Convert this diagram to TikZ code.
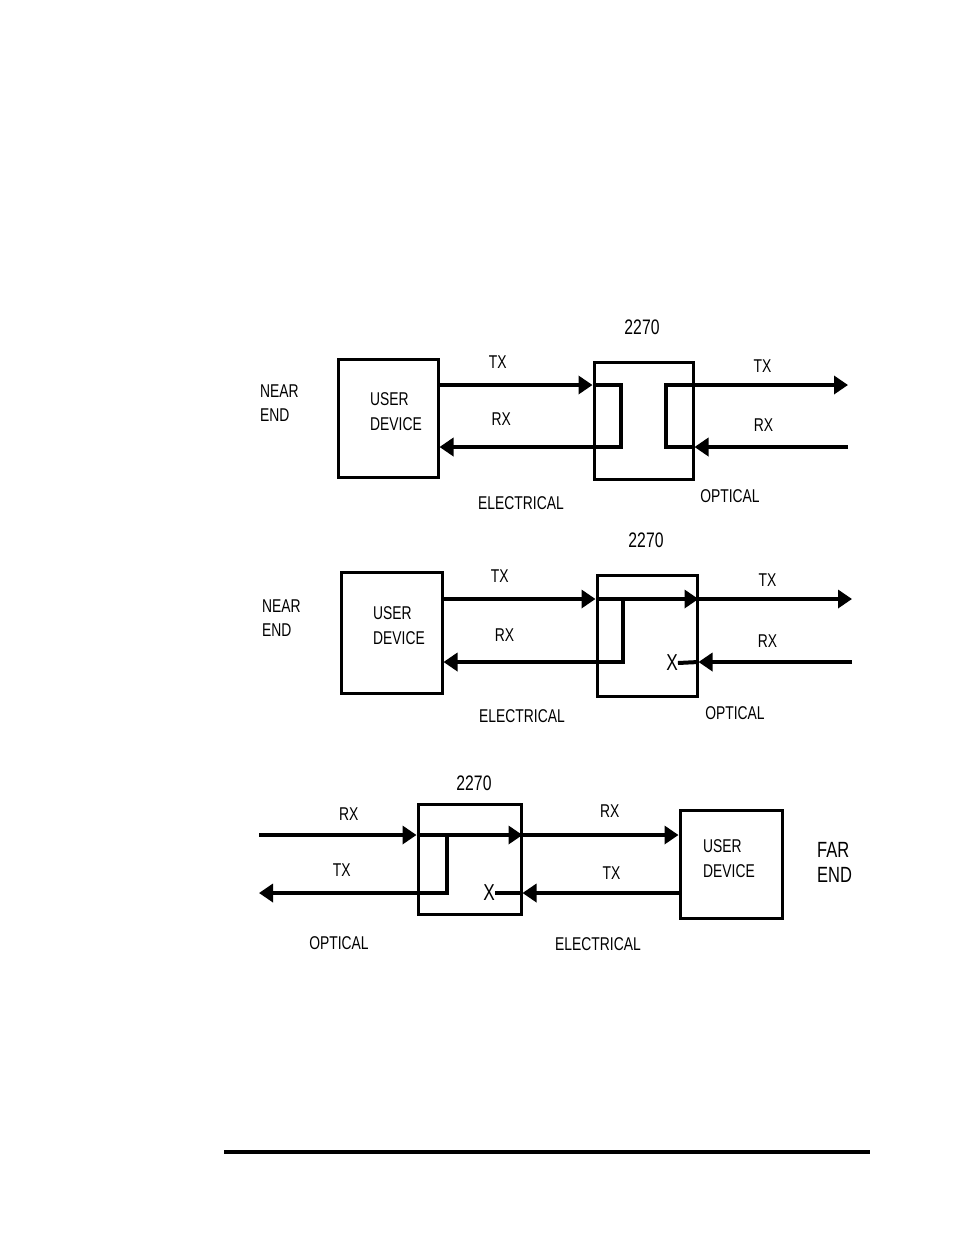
\documentclass[tikz,border=0pt]{standalone}
\usepackage{fontspec}
\newfontfamily\lblfont{Liberation Sans}[FakeStretch=0.75]
\usepackage{tikz}
\usetikzlibrary{arrows.meta, positioning, calc}

\begin{document}
\begin{tikzpicture}[
    x=1pt, y=-1pt,
    box/.style={rectangle, draw=black, line width=3pt, inner sep=0pt},
    lbl/.style={inner sep=0pt, font=\lblfont\fontsize{18.5}{24.5}\selectfont},
    big/.style={inner sep=0pt, align=left, font=\lblfont\fontsize{22}{25}\selectfont},
    unit/.style={inner sep=0pt, font=\lblfont\fontsize{21}{24}\selectfont},
    cross/.style={inner sep=0pt, font=\lblfont\fontsize{23}{26}\selectfont},
    wire/.style={line width=4pt},
    arrow/.style={-{Triangle[length=14pt, width=18pt]}, line width=4pt}
]
    \useasboundingbox (0,0) rectangle (954,1235);

    % near end, loopback in the 2270
    \node[box, minimum width=100pt, minimum height=118pt] (ud1) at (388,418) {};
    \node[box, minimum width=99pt, minimum height=117pt]  (sw1) at (643.5,420.5) {};
    \node[unit] at (642,327) {2270};
    \node[lbl, align=left, anchor=west] at (260,403) {NEAR\\END};
    \node[lbl, align=left, anchor=west] at (370,411.5) {USER\\DEVICE};
    \coordinate (txo1) at (848,385);
    \coordinate (rxi1) at (848,447);
    \coordinate (l1) at (621,447);
    \coordinate (r1) at (666,385);

    \draw[arrow] (ud1.east |- txo1) -- node[lbl, above=15pt, pos=0.38]{TX} (sw1.west |- txo1);
    \draw[arrow] (sw1.west |- txo1) -| (l1) -- node[lbl, above=20pt, pos=0.66]{RX} (ud1.east |- l1);
    \draw[arrow] (rxi1) -- node[lbl, above=14pt, pos=0.55]{RX} (sw1.east |- rxi1);
    \draw[arrow] (sw1.east |- rxi1) -| (r1) -- node[lbl, above=11pt, pos=0.53]{TX} (txo1);
    \node[lbl] at (521,503) {ELECTRICAL};
    \node[lbl] at (730,496) {OPTICAL};

    % near end, pass through
    \node[box, minimum width=101pt, minimum height=121pt] (ud2) at (391.5,632.5) {};
    \node[box, minimum width=100pt, minimum height=121pt] (sw2) at (647,635.5) {};
    \node[unit] at (646,540) {2270};
    \node[lbl, align=left, anchor=west] at (262,618) {NEAR\\END};
    \node[lbl, align=left, anchor=west] at (373,625.5) {USER\\DEVICE};
    \coordinate (txo2) at (852,599);
    \coordinate (rxi2) at (852,662);
    \coordinate (b2) at (623,599);
    \node[cross] (x2) at (672,663) {X};

    \draw[arrow] (ud2.east |- txo2) -- node[lbl, above=15pt, pos=0.37]{TX} (sw2.west |- txo2);
    \draw[arrow] (sw2.west |- txo2) -- (sw2.east |- txo2);
    \draw[arrow] (sw2.east |- txo2) -- node[lbl, above=11pt, pos=0.45]{TX} (txo2);
    \draw[arrow] (b2) |- node[lbl, above=19pt, pos=0.83]{RX} (ud2.east |- rxi2);
    \draw[arrow] (rxi2) -- node[lbl, above=13pt, pos=0.55]{RX} (sw2.east |- rxi2);
    \draw[wire] (sw2.east |- rxi2) -- (x2.east);
    \node[lbl] at (522,716) {ELECTRICAL};
    \node[lbl] at (735,713) {OPTICAL};

    % far end
    \node[box, minimum width=103pt, minimum height=110pt] (sw3) at (469.5,859) {};
    \node[box, minimum width=102pt, minimum height=108pt] (ud3) at (731,864) {};
    \node[unit] at (474,783) {2270};
    \node[big, anchor=west] at (817,862.5) {FAR\\END};
    \node[lbl, align=left, anchor=west] at (703,858.5) {USER\\DEVICE};
    \coordinate (rxi3) at (259,835);
    \coordinate (txo3) at (259,893);
    \coordinate (b3) at (447,835);
    \node[cross] (x3) at (489,893) {X};

    \draw[arrow] (rxi3) -- node[lbl, above=13pt, pos=0.57]{RX} (sw3.west |- rxi3);
    \draw[arrow] (sw3.west |- rxi3) -- (sw3.east |- rxi3);
    \draw[arrow] (sw3.east |- rxi3) -- node[lbl, above=16pt, pos=0.56]{RX} (ud3.west |- rxi3);
    \draw[arrow] (b3) |- node[lbl, above=15pt, pos=0.78]{TX} (txo3);
    \draw[arrow] (ud3.west |- x3) -- node[lbl, above=12pt, pos=0.43]{TX} (sw3.east |- x3);
    \draw[wire] (sw3.east |- x3) -- (x3.east);
    \node[lbl] at (339,943) {OPTICAL};
    \node[lbl] at (598,944) {ELECTRICAL};

    \draw[line width=4pt] (224,1152) -- (870,1152);
\end{tikzpicture}
\end{document}
